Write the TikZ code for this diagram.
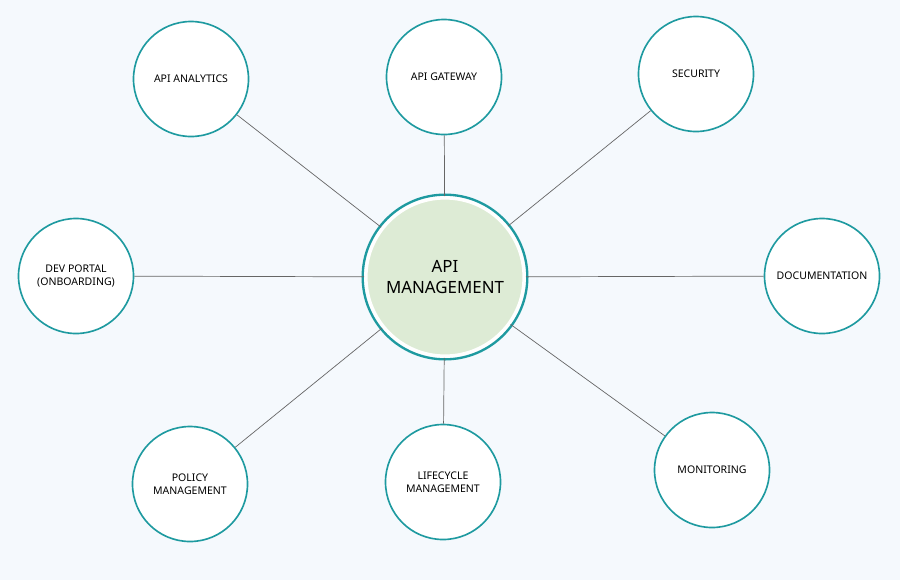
\documentclass[tikz,border=0pt]{standalone}
\usepackage{fontspec}
\setmainfont{Noto Sans}
\usetikzlibrary{positioning}
\definecolor{ringteal}{HTML}{1E9AA0}
\definecolor{hubgreen}{HTML}{DDEBD5}
\definecolor{pagebg}{HTML}{F5F9FD}
\begin{document}
\begin{tikzpicture}[x=0.03cm,y=-0.03cm,
topic/.style={
  draw=ringteal,
  line width=1.4pt,
  circle,
  fill=white,
  minimum size=3.45cm,
  align=center,
  font=\small
},
hub/.style={
  draw=white,
  line width=3pt,
  circle,
  fill=hubgreen,
  minimum size=4.75cm,
  align=center,
  font=\Large
},
spoke/.style={
  draw=gray!80!black,
  line width=0.6pt
}
]
\fill[pagebg] (0,0) rectangle (900,580);
\node[hub] (mgmt) at (445,277) {API\\MANAGEMENT};
\draw[ringteal,line width=2pt] (mgmt.center) circle (2.47cm);
\node[topic] (analytics) at (191,79) {API ANALYTICS};
\node[topic] (gateway) at (444,77) {API GATEWAY};
\node[topic] (security) at (696,74) {SECURITY};
\node[topic] (docs) at (822,276) {DOCUMENTATION};
\node[topic] (monitor) at (712,470) {MONITORING};
\node[topic] (lifecycle) at (443,482) {LIFECYCLE\\MANAGEMENT};
\node[topic] (policy) at (190,484) {POLICY\\MANAGEMENT};
\node[topic] (portal) at (76,276) {DEV PORTAL\\(ONBOARDING)};

\foreach \t in {analytics,gateway,security,docs,monitor,lifecycle,policy,portal}
  \draw[spoke] (mgmt) -- (\t);
\end{tikzpicture}
\end{document}
